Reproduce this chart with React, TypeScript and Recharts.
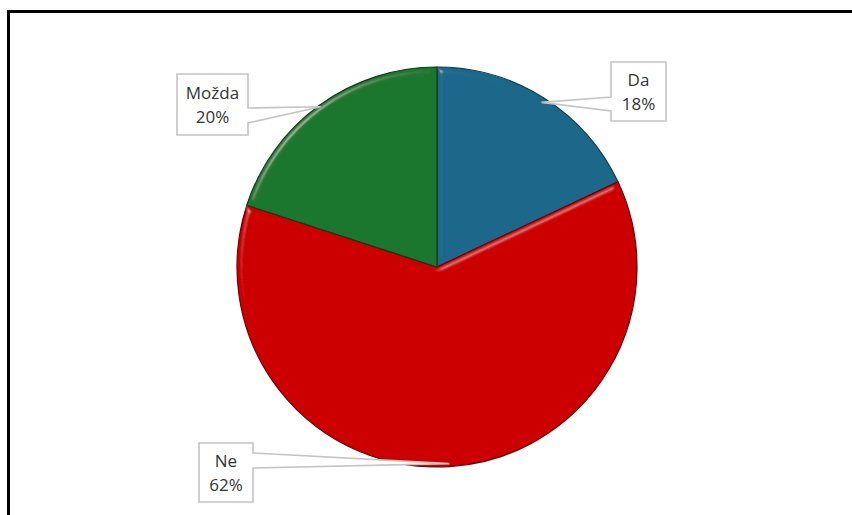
import React from "react";
import { PieChart, Pie, Cell } from "recharts";

// ---- data ----
const categories = ["Da", "Ne", "Možda"];
const shares = [18, 62, 20];
const sliceColors = ["#1c688b", "#cc0000", "#1e772e"];
const rimColors = ["#0f3c52", "#6e0000", "#0c3d16"];

const data = categories.map((name, i) => ({ name, value: shares[i] }));

// ---- label box layout (chart pixel coords) ----
type Box = { x: number; y: number; w: number; h: number; side: "left" | "right"; b1: number; b2: number; tipR: number };
const labelBoxes: Box[] = [
  { x: 611, y: 62, w: 55, h: 59, side: "left", b1: 97, b2: 111, tipR: 0.975 },
  { x: 199, y: 443, w: 54, h: 59, side: "right", b1: 453, b2: 468, tipR: 0.985 },
  { x: 177, y: 74, w: 71, h: 61, side: "right", b1: 108, b2: 123, tipR: 0.99 },
];

const RAD = Math.PI / 180;
const FONT = "'Open Sans', 'Noto Sans', sans-serif";

const CalloutLabel = (props: any) => {
  const { cx, cy, midAngle, outerRadius, index, percent, name } = props;
  const b = labelBoxes[index];
  if (!b) return null;
  const tx = cx + outerRadius * b.tipR * Math.cos(-midAngle * RAD);
  const ty = cy + outerRadius * b.tipR * Math.sin(-midAngle * RAD);
  let d: string;
  if (b.side === "left") {
    d = `M${b.x},${b.y} H${b.x + b.w} V${b.y + b.h} H${b.x} V${b.b2} L${tx},${ty} L${b.x},${b.b1} Z`;
  } else {
    d = `M${b.x},${b.y} H${b.x + b.w} V${b.b1} L${tx},${ty} L${b.x + b.w},${b.b2} V${b.y + b.h} H${b.x} Z`;
  }
  const mx = b.x + b.w / 2;
  const my = b.y + b.h / 2;
  return (
    <g>
      <path d={d} fill="#ffffff" stroke="#c4c4c4" strokeWidth={1.6} strokeLinejoin="miter" />
      <text x={mx} y={my - 12 + 6} textAnchor="middle" fontFamily={FONT} fontSize={17} fill="#333333">
        {name}
      </text>
      <text x={mx} y={my + 12 + 6} textAnchor="middle" fontFamily={FONT} fontSize={17} fill="#333333">
        {`${Math.round(percent * 100)}%`}
      </text>
    </g>
  );
};

export default function App() {
  return (
    <div style={{ position: "absolute", left: 0, top: 0, width: 852, height: 515, background: "#ffffff", overflow: "hidden" }}>
      <svg width={0} height={0} style={{ position: "absolute" }}>
        <defs>
          <filter id="bevel" x="-10%" y="-10%" width="120%" height="120%">
            <feGaussianBlur in="SourceAlpha" stdDeviation="3" result="blur" />
            <feSpecularLighting in="blur" surfaceScale="4" specularConstant="0.6" specularExponent="70" lightingColor="#ffffff" result="spec">
              <feDistantLight azimuth="225" elevation="40" />
            </feSpecularLighting>
            <feComposite in="spec" in2="SourceAlpha" operator="in" result="specOut" />
            <feComposite in="SourceGraphic" in2="specOut" operator="arithmetic" k1="0" k2="1" k3="0.45" k4="0" />
          </filter>
        </defs>
      </svg>
      <div
        style={{
          position: "absolute",
          left: 7,
          top: 10,
          width: 900,
          height: 600,
          borderTop: "3px solid #000",
          borderLeft: "3px solid #000",
          boxSizing: "border-box",
        }}
      />
      <div style={{ position: "absolute", left: 0, top: 0 }}>
        <PieChart width={852} height={515} margin={{ top: 0, right: 0, bottom: 0, left: 0 }}>
          <Pie
            data={data}
            dataKey="value"
            nameKey="name"
            cx={437}
            cy={267}
            innerRadius={0}
            outerRadius={200}
            startAngle={90}
            endAngle={-270}
            label={CalloutLabel}
            labelLine={false}
            isAnimationActive={false}
          >
            {data.map((d, i) => (
              <Cell key={d.name} fill={sliceColors[i]} stroke={rimColors[i]} strokeWidth={1.2} style={{ filter: "url(#bevel)" }} />
            ))}
          </Pie>
        </PieChart>
      </div>
    </div>
  );
}
